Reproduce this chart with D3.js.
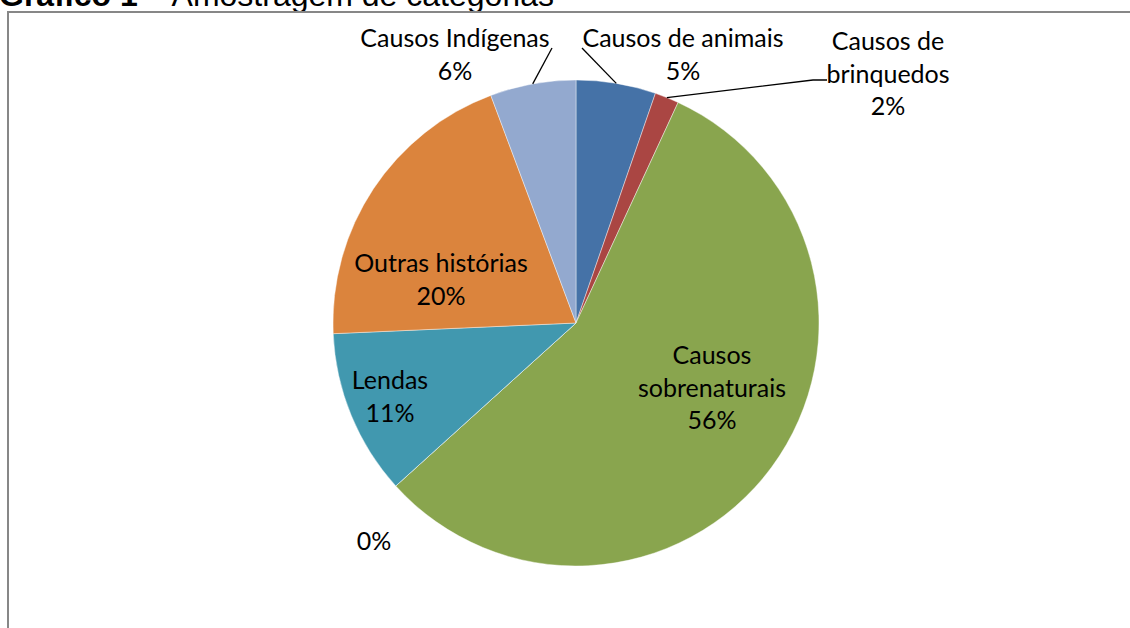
<!DOCTYPE html>
<html>
<head>
<meta charset="utf-8">
<script src="https://cdn.jsdelivr.net/npm/d3@7"></script>
<style>
  body { margin: 0; background: #fff; }
  .lbl { font-family: Lato, "Open Sans", sans-serif; font-size: 25px; fill: #000; }
</style>
</head>
<body>
<div class="chart"></div>
<script>
// categories, clockwise from 12 o'clock (Excel order)
var categories = ["Causos de animais", "Causos de brinquedos", "Causos sobrenaturais", "", "Lendas", "Outras histórias", "Causos Indígenas"];
var values = [5.3, 1.6, 56.4, 0, 11.0, 20.0, 5.7];
var pctLabels = ["5%", "2%", "56%", "0%", "11%", "20%", "6%"];
// label lines as shown on the chart
var labelLines = [
    ["Causos de animais"],
    ["Causos de", "brinquedos"],
    ["Causos", "sobrenaturais"],
    [],
    ["Lendas"],
    ["Outras histórias"],
    ["Causos Indígenas"]
];
var colors = ["#4572A7", "#AA4643", "#89A54E", "#71588F", "#4198AF", "#DB843D", "#93A9CF"];

var width = 1130,
    height = 628,
    cx = 576,
    cy = 323,
    radius = 243,
    lineH = 32.5;

// label anchor (x centre, first baseline) and leader line end, layout only
var labelPos = [
    { x: 683, y: 47, lead: [[582, 48]] },
    { x: 888, y: 50, lead: [[813, 80], [827, 80]] },
    { x: 712, y: 364 },
    { x: 374, y: 550 },
    { x: 390, y: 389 },
    { x: 441, y: 272 },
    { x: 455, y: 47, lead: [[552, 48]] }
];

var svg = d3.select(".chart").append("svg")
    .attr("width", width)
    .attr("height", height);

// title, cut off by the top of the page
var title = svg.append("text")
    .attr("x", -1)
    .attr("y", 6)
    .style("font-family", "'Liberation Sans', Arial, sans-serif")
    .style("font-size", "32px");
title.append("tspan").style("font-weight", "bold").text("Gráfico 1");
title.append("tspan").text(" – Amostragem de categorias");

// chart area border
svg.append("rect")
    .attr("x", 8)
    .attr("y", 12)
    .attr("width", width + 20)
    .attr("height", height + 20)
    .attr("fill", "none")
    .attr("stroke", "#878787")
    .attr("stroke-width", 2);

var pie = d3.pie().sort(null).value(function (d) { return d; });
var arcs = pie(values);

var arc = d3.arc().innerRadius(0).outerRadius(radius);
var edge = d3.arc().innerRadius(radius).outerRadius(radius);

var g = svg.append("g")
    .attr("transform", "translate(" + cx + "," + cy + ")");

g.selectAll("path")
    .data(arcs)
    .enter().append("path")
    .attr("d", arc)
    .attr("fill", function (d, i) { return colors[i]; })
    .attr("stroke", "#fff")
    .attr("stroke-opacity", 0.6)
    .attr("stroke-width", 0.7);

// leader lines from slice edge to the label
var line = d3.line();
arcs.forEach(function (d, i) {
    var p = labelPos[i];
    if (!p.lead) return;
    var c = edge.centroid(d);
    var pts = [[cx + c[0], cy + c[1]]].concat(p.lead);
    svg.append("path")
        .attr("d", line(pts))
        .attr("fill", "none")
        .attr("stroke", "#000")
        .attr("stroke-width", 1.3);
});

// labels
categories.forEach(function (name, i) {
    var p = labelPos[i];
    var lines = labelLines[i].concat([pctLabels[i]]);
    var t = svg.append("text")
        .attr("class", "lbl")
        .attr("text-anchor", "middle");
    lines.forEach(function (s, k) {
        t.append("tspan")
            .attr("x", p.x)
            .attr("y", p.y + k * lineH)
            .text(s);
    });
});
</script>
</body>
</html>
